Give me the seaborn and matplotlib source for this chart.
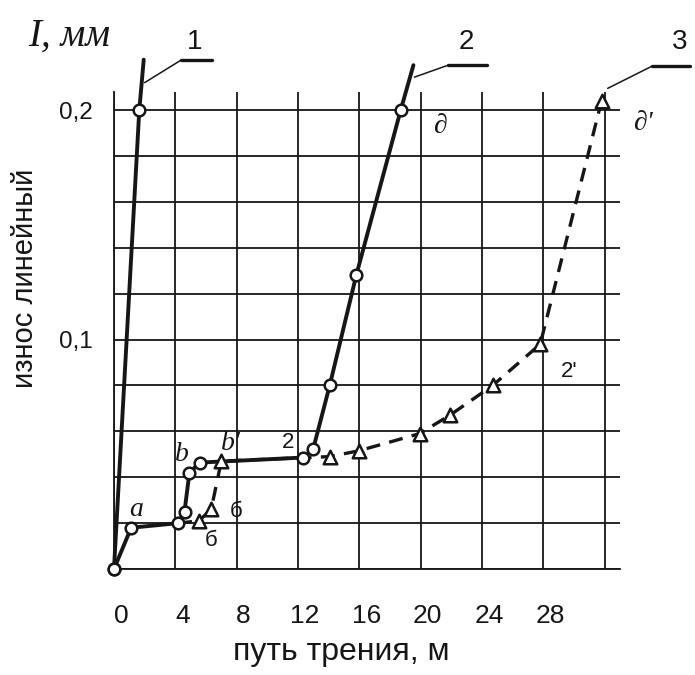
import matplotlib
matplotlib.use("Agg")
import matplotlib.pyplot as plt
from matplotlib.transforms import ScaledTranslation
import pandas as pd
import seaborn as sns

# values (x: путь трения, м; y: износ, мм)
c1_x = [0.0, 1.65]
c1_y = [0.0, 0.200]
c1_tail = (1.94, 0.222)

c2_x = [0.0, 1.12, 4.18, 4.60, 4.92, 5.60, 12.36, 13.00, 14.07, 15.80, 18.70]
c2_y = [0.0, 0.018, 0.020, 0.025, 0.042, 0.0464, 0.0486, 0.0525, 0.080, 0.128, 0.200]
c2_tail = (19.53, 0.2196)

c3_x = [5.54, 6.34, 7.00, 14.07, 15.95, 19.93, 21.90, 24.70, 27.80, 31.80]
c3_y = [0.021, 0.026, 0.047, 0.049, 0.0515, 0.059, 0.067, 0.080, 0.098, 0.204]
c3_head = (4.18, 0.020)

x_ticks = [0, 4, 8, 12, 16, 20, 24, 28, 32]
x_labels = ["0", "4", "8", "12", "16", "20", "24", "28", ""]
y_ticks = [0.0, 0.02, 0.04, 0.06, 0.08, 0.10, 0.12, 0.14, 0.16, 0.18, 0.20]
y_labels = ["", "", "", "", "", "0,1", "", "", "", "", "0,2"]

sns.set_theme(style="white")
plt.rcParams["font.family"] = ["Liberation Sans", "DejaVu Sans"]
ink = "#161616"
serif = ["Liberation Serif", "DejaVu Serif"]

fig = plt.figure(figsize=(6.95, 6.75), dpi=100)
ax = fig.add_axes([0.164, 0.157, 0.728, 0.707])

# lines (full paths incl. unmarked tails)
l1 = pd.DataFrame({"x": c1_x + [c1_tail[0]], "y": c1_y + [c1_tail[1]]})
l2 = pd.DataFrame({"x": c2_x + [c2_tail[0]], "y": c2_y + [c2_tail[1]]})
l3 = pd.DataFrame({"x": [c3_head[0]] + c3_x, "y": [c3_head[1]] + c3_y})

sns.lineplot(data=l1, x="x", y="y", ax=ax, color=ink, lw=2.8, sort=False,
             estimator=None, clip_on=False, zorder=3)
sns.lineplot(data=l2, x="x", y="y", ax=ax, color=ink, lw=2.8, sort=False,
             estimator=None, clip_on=False, zorder=3)
sns.lineplot(data=l3, x="x", y="y", ax=ax, color=ink, lw=2.4, sort=False,
             estimator=None, clip_on=False, zorder=3, linestyle=(0, (4.2, 2.8)))

# markers
sns.scatterplot(x=c1_x + c2_x, y=c1_y + c2_y, ax=ax, marker="o", s=70,
                facecolor="white", edgecolor=ink, linewidth=1.8, zorder=5, clip_on=False)
sns.scatterplot(x=c3_x, y=c3_y, ax=ax, marker="^", s=95,
                facecolor="white", edgecolor=ink, linewidth=1.8, zorder=5, clip_on=False)

ax.set_xlim(0, 33)
ax.set_ylim(0, 0.208)
ax.set_xticks(x_ticks)
ax.set_xticklabels(x_labels)
ax.set_yticks(y_ticks)
ax.set_yticklabels(y_labels)
ax.grid(True, color=ink, lw=1.3)
ax.set_axisbelow(True)
for side in ["top", "right"]:
    ax.spines[side].set_visible(False)
for side in ["left", "bottom"]:
    ax.spines[side].set_color(ink)
    ax.spines[side].set_linewidth(1.3)
ax.tick_params(axis="x", length=0, pad=25, labelsize=19, labelcolor=ink)
ax.tick_params(axis="y", length=0, pad=15, labelsize=17.5, labelcolor=ink)
for lab in ax.get_xticklabels():
    lab.set_transform(lab.get_transform() + ScaledTranslation(0.07, 0, fig.dpi_scale_trans))

ax.set_xlabel("путь трения, м", fontsize=23, color=ink, va="center")
ax.xaxis.set_label_coords(0.45, -0.174)
ax.set_ylabel("износ линейный", fontsize=21, color=ink, va="center")
ax.yaxis.set_label_coords(-0.176, 0.61)

fig.text(28 / 695, 1 - 36 / 675, "I, мм", family=serif, style="italic",
         fontsize=28, color=ink, ha="left", va="center")

# point letters
for txt, x, y in [("a", 1.47, 0.026), ("b", 4.43, 0.0498), ("b'", 7.63, 0.0545),
                  ("∂", 21.24, 0.193), ("∂'", 34.5, 0.194)]:
    ax.text(x, y, txt, family=serif, style="italic", fontsize=20, color=ink,
            ha="center", va="center")
for txt, x, y in [("2", 11.36, 0.0553), ("б", 7.94, 0.025), ("б", 6.34, 0.0125),
                  ("2'", 29.66, 0.086)]:
    ax.text(x, y, txt, fontsize=16, color=ink, ha="center", va="center")

# curve number call-outs
for num, x0, y0, x1, y1, x2, tx in [("1", 2.0, 0.212, 4.37, 0.2218, 6.4, 5.23),
                                    ("2", 19.6, 0.2144, 21.8, 0.2196, 24.3, 22.97),
                                    ("3", 32.2, 0.2095, 35.1, 0.2192, 37.6, 36.9)]:
    ax.plot([x0, x1], [y0, y1], color=ink, lw=1.1, clip_on=False)
    ax.plot([x1, x2], [y1, y1], color=ink, lw=2.4, clip_on=False)
    ax.text(tx, 0.2295, num, fontsize=20, color=ink, ha="center", va="center")

fig.savefig("out.png", dpi=100)
